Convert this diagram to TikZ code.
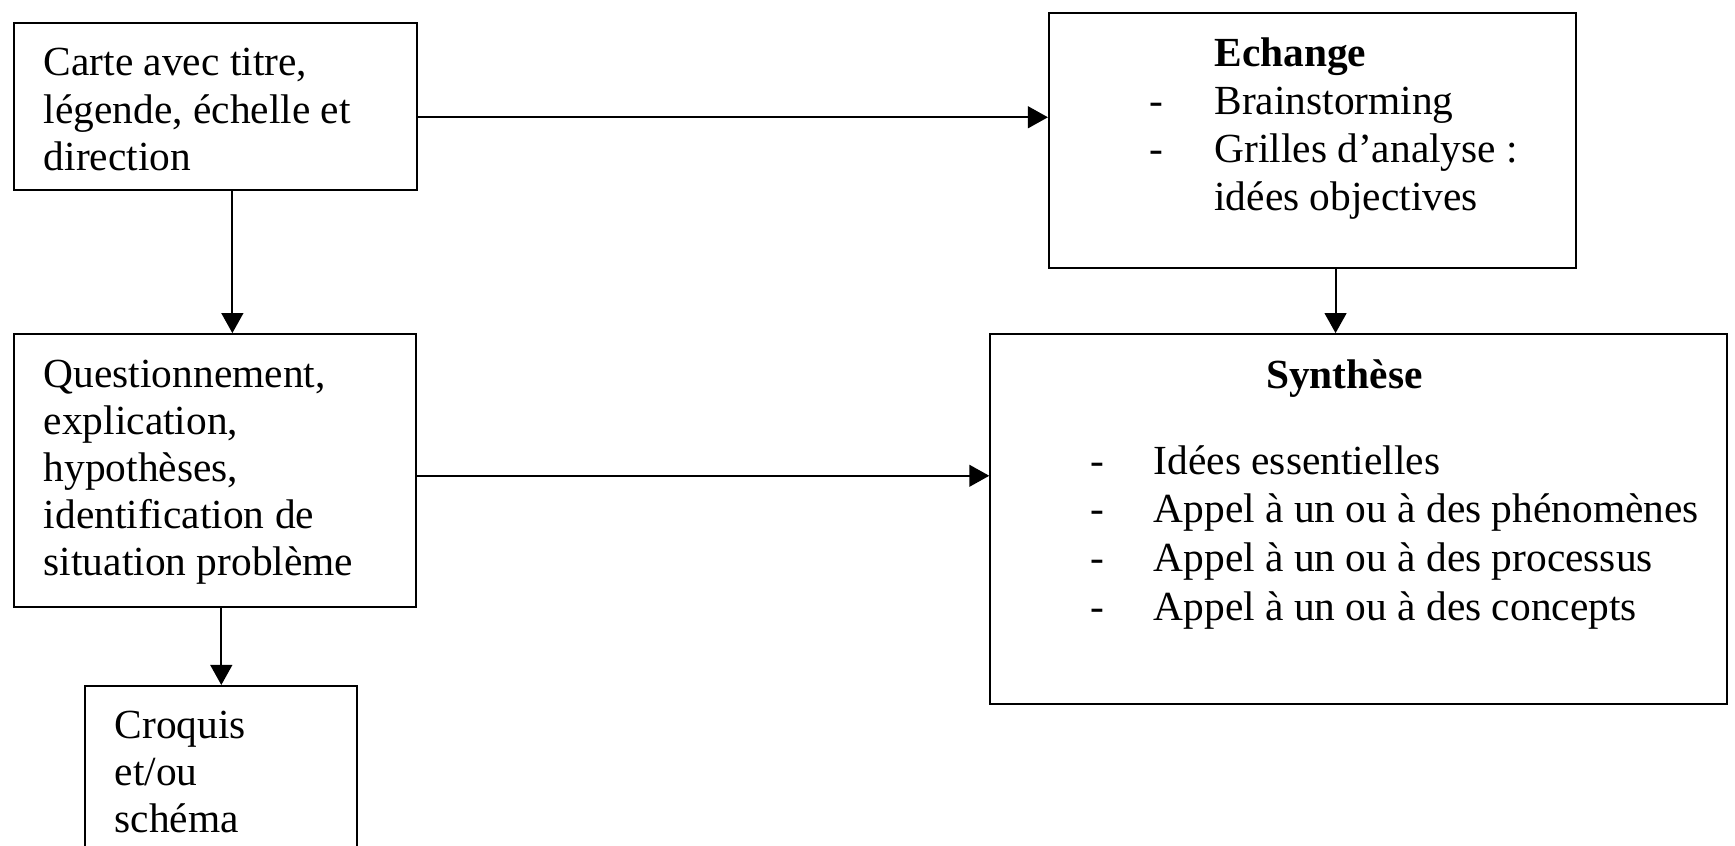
\documentclass[tikz,border=0pt]{standalone}
\usepackage{fontspec}
\setmainfont{Liberation Serif}
\usetikzlibrary{arrows.meta,calc,fit}
\newcommand{\topstrut}{\rule{0pt}{10pt}}
\begin{document}
\begin{tikzpicture}[x=0.3207pt,y=-0.3207pt,
  box/.style={draw, line width=0.6pt, inner sep=0pt},
  txt/.style={anchor=north west, inner sep=0pt, align=left},
  ttl/.style={anchor=base, inner sep=0pt, font=\fontsize{12}{13.8}\selectfont\bfseries},
  arr/.style={line width=0.6pt, -{Triangle[length=5.8pt,width=6.3pt]}}]
\useasboundingbox (0,0) rectangle (1568,764);
\begin{scope}
\clip (0,0) rectangle (1568,764);
% boxes
\node[box, fit={(13,21) (377,172)}] (carte) {};
\node[box, fit={(948,12) (1424,242)}] (echange) {};
\node[box, fit={(13,302) (376,549)}] (quest) {};
\node[box, fit={(895,302) (1561,636)}] (synth) {};
\node[box, fit={(77,620) (323,790)}] (croq) {};
\end{scope}
% texts (first baseline = given y + 31.18)
\node[txt, font=\fontsize{12}{13.8}\selectfont] (tcarte) at (39,36.6) {\topstrut Carte avec titre,\\légende, échelle et\\direction};
\node[txt, font=\fontsize{12}{13.66}\selectfont] (tquest) at (39,318.3) {\topstrut Questionnement,\\explication,\\hypothèses,\\identification de\\situation problème};
\node[txt, font=\fontsize{12}{13.63}\selectfont] (tcroq) at (103,635.8) {\topstrut Croquis\\et/ou\\schéma};
\node[txt, font=\fontsize{12}{13.92}\selectfont] (tech) at (1038,28.4) {\topstrut\hspace*{18.9pt}\textbf{Echange}\\\makebox[18.9pt][l]{-}Brainstorming\\\makebox[18.9pt][l]{-}Grilles d’analyse :\\\hspace*{18.9pt}idées objectives};
\node[ttl] (tsyn) at (1215,351) {Synthèse};
\node[txt, font=\fontsize{12}{14.17}\selectfont] (tsynl) at (984.5,396.6) {\topstrut\makebox[18.5pt][l]{-}Idées essentielles\\\makebox[18.5pt][l]{-}Appel à un ou à des phénomènes\\\makebox[18.5pt][l]{-}Appel à un ou à des processus\\\makebox[18.5pt][l]{-}Appel à un ou à des concepts};
% arrow start points
\coordinate (a1) at ($(carte.east)+(0,9.5)$);
\coordinate (a2) at ($(carte.south)+(15,0)$);
\coordinate (a3) at ($(quest.east)+(0,4.5)$);
\coordinate (a4) at ($(echange.south)+(21,0)$);
% arrows
\draw[arr] (a1) -- (a1 -| echange.west);
\draw[arr] (a2) -- (a2 |- quest.north);
\draw[arr] (a3) -- (a3 -| synth.west);
\draw[arr] (a4) -- (a4 |- synth.north);
\draw[arr] (quest.south -| croq.north) -- (croq.north);
\end{tikzpicture}
\end{document}
